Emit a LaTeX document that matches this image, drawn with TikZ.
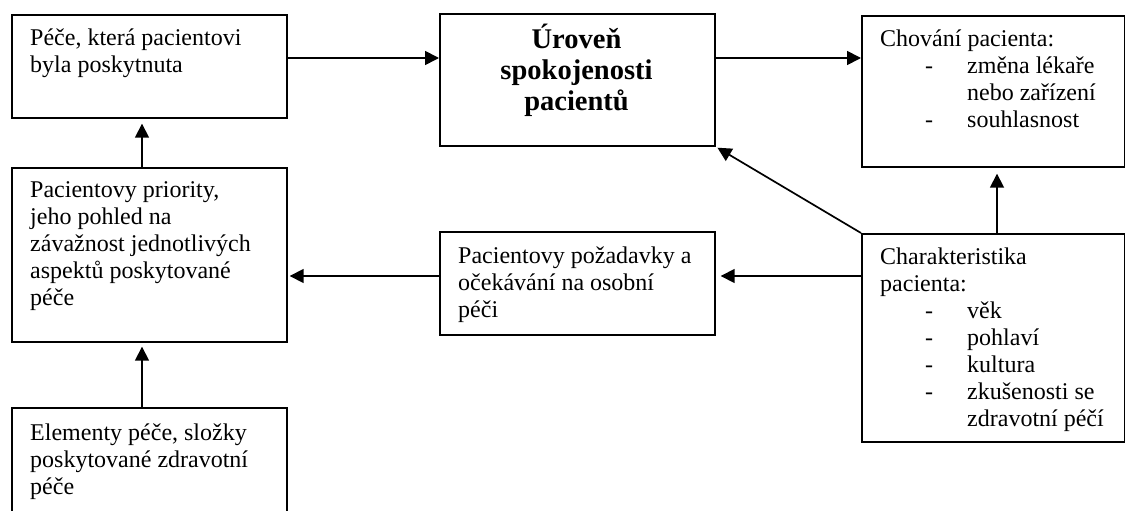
\documentclass[tikz,border=0pt]{standalone}
\usepackage{fontspec}
\setmainfont{Liberation Serif}
\usetikzlibrary{arrows.meta}
\newcommand\itm[1]{\hspace*{45pt}\makebox[42pt][l]{-}#1}
\newcommand\cnt[1]{\hspace*{87pt}#1}
\newcommand\bodytxt[1]{\parbox[t]{270pt}{\fontsize{24}{27}\selectfont\raggedright #1}}
\tikzset{
  box/.style={draw, line width=1.7pt, inner sep=0pt, anchor=north west},
  txt/.style={inner sep=0pt, anchor=base west},
  arr/.style={line width=1.7pt, -{Triangle[length=14pt,width=14pt]}},
}
\begin{document}
\begin{tikzpicture}[x=1pt,y=-1pt]
\clip (0,0) rectangle (1125,511);
\fill[white] (0,0) rectangle (1125,511);
% boxes
\node[box, minimum width=275pt, minimum height=103pt] (A) at (11,14) {};
\node[box, minimum width=275pt, minimum height=132pt] (B) at (439,13) {};
\node[box, minimum width=263pt, minimum height=151pt] (C) at (861,15) {};
\node[box, minimum width=275pt, minimum height=174pt] (D) at (11,167) {};
\node[box, minimum width=275pt, minimum height=130pt] (E) at (11,407) {};
\node[box, minimum width=275pt, minimum height=103pt] (F) at (439,231) {};
\node[box, minimum width=263pt, minimum height=208pt] (G) at (861,233) {};
% texts
\node[txt] (At) at (30,46) {\bodytxt{Péče, která pacientovi\\byla poskytnuta}};
\node[inner sep=0pt, anchor=base] (Bt) at (576.5,49) {\parbox[t]{260pt}{\centering\bfseries\fontsize{28.5}{31}\selectfont Úroveň\\spokojenosti\\pacientů}};
\node[txt] (Ct) at (880,47) {\bodytxt{Chování pacienta:\\\itm{změna lékaře}\\\cnt{nebo zařízení}\\\itm{souhlasnost}}};
\node[txt] (Dt) at (30,197) {\bodytxt{Pacientovy priority,\\jeho pohled na\\závažnost jednotlivých\\aspektů poskytované\\péče}};
\node[txt] (Et) at (30,440) {\bodytxt{Elementy péče, složky\\poskytované zdravotní\\péče}};
\node[txt] (Ft) at (458,263) {\bodytxt{Pacientovy požadavky a\\očekávání na osobní\\péči}};
\node[txt] (Gt) at (880,264) {\bodytxt{Charakteristika\\pacienta:\\\itm{věk}\\\itm{pohlaví}\\\itm{kultura}\\\itm{zkušenosti se}\\\cnt{zdravotní péčí}}};
% helper coordinates
\coordinate (yT) at (0,58);
\coordinate (yM) at (0,276);
\coordinate (xL) at (142,0);
\coordinate (xR) at (997,0);
% arrows
\draw[arr] (A.east |- yT) -- (B.west |- yT);
\draw[arr] (B.east |- yT) -- (C.west |- yT);
\draw[arr, shorten >=5pt] (D.north -| xL) -- (A.south -| xL);
\draw[arr, shorten >=4pt] (E.north -| xL) -- (D.south -| xL);
\draw[arr, shorten >=2pt] (F.west |- yM) -- (D.east |- yM);
\draw[arr, shorten >=5pt] (G.west |- yM) -- (F.east |- yM);
\draw[arr, shorten >=6pt] (G.north -| xR) -- (C.south -| xR);
\draw[arr, shorten >=2pt] (G.north west) -- (B.south east);
\end{tikzpicture}
\end{document}
